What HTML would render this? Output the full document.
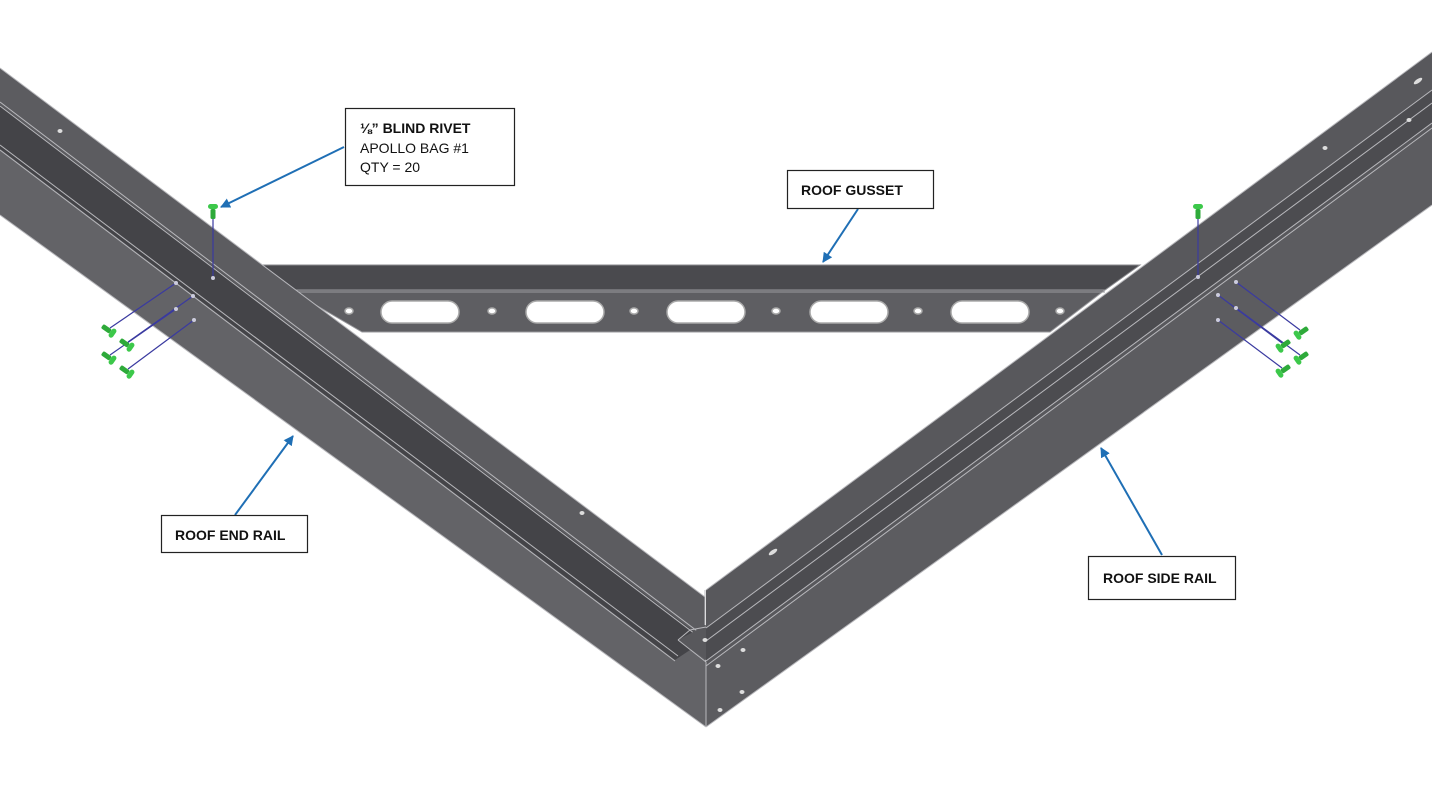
<!DOCTYPE html>
<html><head><meta charset="utf-8"><style>
html,body{margin:0;padding:0;background:#fff;}
svg{display:block;}
text{font-family:"Liberation Sans",Arial,sans-serif;font-size:14px;fill:#111;}
.b{font-weight:bold;}
</style></head><body>
<svg width="1432" height="801" viewBox="0 0 1432 801" xmlns="http://www.w3.org/2000/svg">
<defs>
<marker id="ar" markerWidth="10" markerHeight="10" refX="9" refY="5" orient="auto" markerUnits="userSpaceOnUse"><path d="M0,0 L10,5 L0,10 Z" fill="#1f6fb5"/></marker>
<g id="riv"><rect x="-3" y="-2.5" width="10" height="5" rx="1.5" fill="#2eaa3a"/><rect x="-8" y="-5" width="5" height="10" rx="2.5" fill="#3cc84a"/></g>
</defs>

<!-- Gusset -->
<polygon points="260,265 1140,265 1105,290 290,290" fill="#4a4a4e" stroke="#8a8a8e" stroke-width="1"/>
<polygon points="290,290 1105,290 1050,332 362,332" fill="#5e5e62" stroke="#9a9a9e" stroke-width="1"/>
<line x1="290" y1="292" x2="1105" y2="292" stroke="#9a9a9e" stroke-width="1"/>
<g fill="#fff" stroke="#aaa" stroke-width="1.5">
<rect x="381" y="301" width="78" height="22" rx="11"/>
<rect x="526" y="301" width="78" height="22" rx="11"/>
<rect x="667" y="301" width="78" height="22" rx="11"/>
<rect x="810" y="301" width="78" height="22" rx="11"/>
<rect x="951" y="301" width="78" height="22" rx="11"/>
<ellipse cx="349" cy="311" rx="4" ry="3"/><ellipse cx="492" cy="311" rx="4" ry="3"/><ellipse cx="634" cy="311" rx="4" ry="3"/><ellipse cx="776" cy="311" rx="4" ry="3"/><ellipse cx="918" cy="311" rx="4" ry="3"/><ellipse cx="1060" cy="311" rx="4" ry="3"/>
</g>

<!-- Left rail -->
<polygon points="0,68 705,597 706,727 0,215" fill="#636367"/>
<polygon points="0,68 705,597 705,640 0,105" fill="#5c5c60"/>
<polygon points="0,105 705,640 675,660 0,149" fill="#444448"/>
<g stroke="#b8b8bc" stroke-width="1" fill="none">
<line x1="0" y1="68" x2="705" y2="597"/>
<line x1="0" y1="102" x2="705" y2="637"/>
<line x1="0" y1="106" x2="703" y2="640"/>
<line x1="0" y1="145" x2="678" y2="656"/>
<line x1="0" y1="150" x2="675" y2="661"/>
<line x1="0" y1="215" x2="706" y2="727"/>
<line x1="705" y1="590" x2="705" y2="625"/>
</g>

<!-- Right rail -->
<polygon points="706,590 1432,52 1432,205 706,727 706,660 678,640 706,625" fill="#58585c"/>
<polygon points="706,628 1432,90 1432,123 706,661" fill="#4c4c50"/>
<polygon points="706,665 1432,128 1432,205 706,727" fill="#5c5c60"/>
<g stroke="#b8b8bc" stroke-width="1" fill="none">
<line x1="706" y1="590" x2="1432" y2="52"/>
<line x1="706" y1="628" x2="1432" y2="90"/>
<line x1="706" y1="641" x2="1432" y2="103"/>
<line x1="706" y1="661" x2="1432" y2="123"/>
<line x1="706" y1="666" x2="1432" y2="128"/>
<line x1="706" y1="727" x2="1432" y2="205"/>
<line x1="706" y1="662" x2="706" y2="727"/>
<polyline points="678,640 690,630 706,627"/>
<line x1="678" y1="640" x2="706" y2="662"/>
</g>
<g fill="#ddd">
<ellipse cx="60" cy="131" rx="2.5" ry="2"/><ellipse cx="582" cy="513" rx="2.5" ry="2"/>
<ellipse cx="705" cy="640" rx="2.5" ry="2"/><ellipse cx="743" cy="650" rx="2.5" ry="2"/><ellipse cx="718" cy="666" rx="2.5" ry="2"/><ellipse cx="742" cy="692" rx="2.5" ry="2"/><ellipse cx="720" cy="710" rx="2.5" ry="2"/>
<ellipse cx="1325" cy="148" rx="2.5" ry="2"/><ellipse cx="1409" cy="120" rx="2.5" ry="2"/>
<ellipse cx="1418" cy="81" rx="5" ry="2" transform="rotate(-35 1418 81)"/><ellipse cx="773" cy="552" rx="5" ry="2" transform="rotate(-35 773 552)"/>
</g>

<!-- Rivet lines -->
<g stroke="#3a3aa0" stroke-width="1.2">
<line x1="213" y1="214" x2="213" y2="278"/>
<line x1="176" y1="283" x2="110" y2="328"/>
<line x1="193" y1="296" x2="128" y2="342"/>
<line x1="176" y1="309" x2="110" y2="355"/>
<line x1="194" y1="320" x2="128" y2="369"/>
<line x1="1198" y1="214" x2="1198" y2="277"/>
<line x1="1236" y1="282" x2="1300" y2="330"/>
<line x1="1218" y1="295" x2="1282" y2="343"/>
<line x1="1236" y1="308" x2="1300" y2="355"/>
<line x1="1218" y1="320" x2="1282" y2="368"/>
</g>
<g fill="#ccd"><circle cx="213" cy="278" r="2"/><circle cx="176" cy="283" r="2"/><circle cx="193" cy="296" r="2"/><circle cx="176" cy="309" r="2"/><circle cx="194" cy="320" r="2"/>
<circle cx="1198" cy="277" r="2"/><circle cx="1236" cy="282" r="2"/><circle cx="1218" cy="295" r="2"/><circle cx="1236" cy="308" r="2"/><circle cx="1218" cy="320" r="2"/></g>
<use href="#riv" transform="translate(213,212) rotate(90)"/>
<use href="#riv" transform="translate(1198,212) rotate(90)"/>
<use href="#riv" transform="translate(108,330) rotate(-145)"/>
<use href="#riv" transform="translate(126,344) rotate(-145)"/>
<use href="#riv" transform="translate(108,357) rotate(-145)"/>
<use href="#riv" transform="translate(126,371) rotate(-145)"/>
<use href="#riv" transform="translate(1302,332) rotate(-35)"/>
<use href="#riv" transform="translate(1284,345) rotate(-35)"/>
<use href="#riv" transform="translate(1302,357) rotate(-35)"/>
<use href="#riv" transform="translate(1284,370) rotate(-35)"/>

<!-- Arrows -->
<g stroke="#1f6fb5" stroke-width="2" marker-end="url(#ar)">
<line x1="344" y1="147" x2="221" y2="207"/>
<line x1="858" y1="209" x2="823" y2="262"/>
<line x1="235" y1="515" x2="293" y2="436"/>
<line x1="1162" y1="555" x2="1101" y2="448"/>
</g>

<!-- Labels -->
<g fill="#fff" stroke="#222" stroke-width="1.2">
<rect x="345.5" y="108.5" width="169" height="77"/>
<rect x="787.5" y="170.5" width="146" height="38"/>
<rect x="161.5" y="515.5" width="146" height="37"/>
<rect x="1088.5" y="556.5" width="147" height="43"/>
</g>
<text x="360" y="133" class="b">⅛” BLIND  RIVET</text>
<text x="360" y="153">APOLLO BAG #1</text>
<text x="360" y="172">QTY = 20</text>
<text x="801" y="195" class="b">ROOF GUSSET</text>
<text x="175" y="540" class="b">ROOF END RAIL</text>
<text x="1103" y="583" class="b">ROOF SIDE RAIL</text>
</svg>
</body></html>
